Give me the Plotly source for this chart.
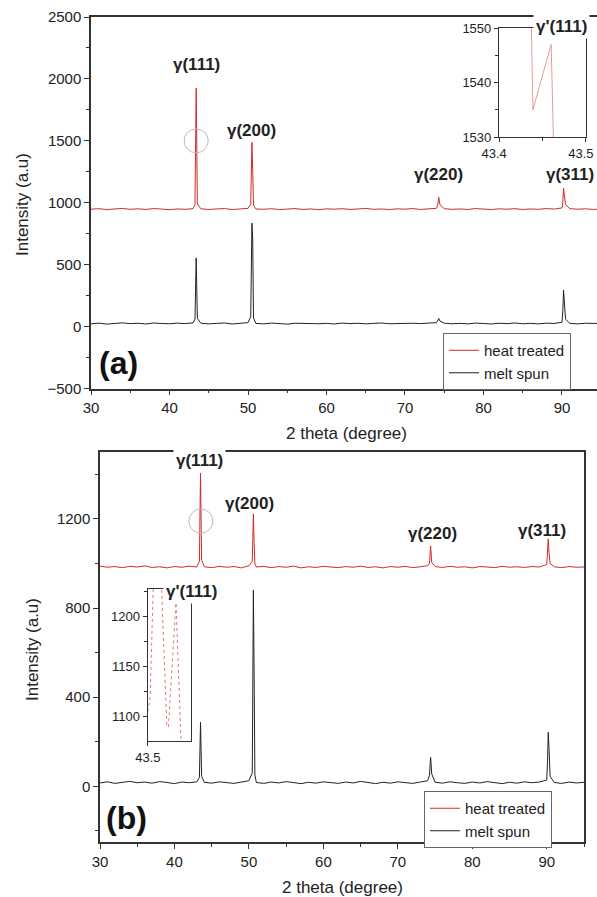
import plotly.graph_objects as go

# ---------------- data ----------------
x_a = [30, 31, 32, 33, 34, 35, 36, 37, 38, 39, 40, 41, 42, 43, 43.25, 43.4, 43.55,
       44, 45, 46, 47, 48, 49, 50, 50.35, 50.5, 50.6, 50.7,
       51, 52, 53, 54, 55, 56, 57, 58, 59, 60, 61, 62, 63, 64, 65, 66, 67, 68, 69, 70,
       71, 72, 73, 74, 74.15, 74.3, 74.45,
       75, 76, 77, 78, 79, 80, 81, 82, 83, 84, 85, 86, 87, 88, 89, 90,
       90.1, 90.2, 90.3, 90.45, 91, 92, 93, 94, 95]
heat_a = [948, 952, 945, 950, 954, 947, 951, 946, 953, 949, 944, 950, 947, 952,
          985, 1925, 990,
          951, 946, 950, 953, 945, 949, 955,
          990, 1488, 1260, 980,
          950, 947, 952, 945, 949, 953, 946, 950, 944, 951, 948, 952, 946, 949, 954, 947,
          950, 945, 951, 948, 953, 946, 950, 955,
          975, 1045, 985,
          952, 947, 950, 946, 953, 949, 945, 951, 948, 952, 946, 950, 947, 953, 949, 958,
          1000, 1118, 1040, 985,
          952, 948, 951, 946, 950]
melt_a = [22, 28, 20, 25, 30, 24, 27, 21, 29, 25, 23, 28, 24, 30,
          60, 555, 65,
          27, 22, 26, 29, 21, 25, 32,
          80, 835, 700, 70,
          26, 22, 28, 24, 20, 27, 25, 29, 23, 26, 21, 28, 24, 27, 22, 26, 29, 23, 25, 21,
          27, 24, 28, 32,
          45, 65, 45,
          27, 23, 26, 22, 28, 25, 21, 27, 24, 29, 23, 26, 22, 28, 25, 35,
          120, 295, 200, 60,
          26, 22, 27, 24, 25]

x_b = [30, 31, 32, 33, 34, 35, 36, 37, 38, 39, 40, 41, 42, 43, 43.35, 43.5, 43.65,
       44, 45, 46, 47, 48, 49, 50, 50.45, 50.6, 50.7, 50.8,
       51, 52, 53, 54, 55, 56, 57, 58, 59, 60, 61, 62, 63, 64, 65, 66, 67, 68, 69, 70,
       71, 72, 73, 74, 74.25, 74.4, 74.55,
       75, 76, 77, 78, 79, 80, 81, 82, 83, 84, 85, 86, 87, 88, 89, 90,
       90.1, 90.2, 90.3, 90.45, 91, 92, 93, 94, 95]
heat_b = [988, 983, 986, 981, 987, 984, 989, 982, 985, 980, 986, 983, 988, 984,
          1010, 1405, 1015,
          985, 981, 987, 983, 986, 980, 990,
          1010, 1222, 1090, 1000,
          984, 987, 981, 986, 983, 988, 980, 985, 982, 987, 984, 981, 986, 983, 988, 982,
          985, 980, 986, 983, 987, 981, 985, 990,
          1000, 1078, 1005,
          986, 982, 987, 983, 985, 980, 986, 984, 981, 987, 983, 985, 982, 986, 984, 995,
          1040, 1110, 1050, 1000,
          985, 981, 986, 983, 984]
melt_b = [15, 20, 13, 18, 22, 16, 19, 14, 21, 17, 12, 19, 16, 20,
          40, 287, 45,
          18, 14, 20, 16, 13, 19, 25,
          60, 880, 500, 50,
          17, 13, 19, 15, 21, 16, 12, 18, 14, 20, 17, 13, 19, 15, 22, 16, 12, 18, 14, 20,
          16, 13, 19, 25,
          50, 130, 55,
          18, 14, 20, 16, 13, 19, 15, 21, 17, 12, 18, 14, 20, 16, 19, 28,
          110, 242, 170, 45,
          17, 13, 19, 15, 18]

inset_a_x = [43.436, 43.439, 43.460, 43.464]
inset_a_y = [1560, 1535, 1547, 1520]
inset_b_x = [43.5, 43.5016, 43.504, 43.5093, 43.5133, 43.5144, 43.5197, 43.5235]
inset_b_y = [1105, 1120, 1240, 1240, 1090, 1090, 1214, 1065]

peak_labels = ["γ(111)", "γ(200)", "γ(220)", "γ(311)"]
series_names = ["heat treated", "melt spun"]

# ---------------- layout helpers ----------------
W, H = 597, 897
def px(x):
    return x / W
def py(y):
    return 1 - y / H

RED = "#d42a2a"
DARK = "#222222"
AX = "#333333"
FONT = "Arial, Liberation Sans, sans-serif"

fig = go.Figure()

# panel a
fig.add_trace(go.Scatter(x=x_a, y=heat_a, mode="lines", line=dict(color=RED, width=1),
                         name=series_names[0], xaxis="x", yaxis="y", legend="legend"))
fig.add_trace(go.Scatter(x=x_a, y=melt_a, mode="lines", line=dict(color=DARK, width=1),
                         name=series_names[1], xaxis="x", yaxis="y", legend="legend"))
# panel b
fig.add_trace(go.Scatter(x=x_b, y=heat_b, mode="lines", line=dict(color=RED, width=1),
                         name=series_names[0], xaxis="x2", yaxis="y2", legend="legend2"))
fig.add_trace(go.Scatter(x=x_b, y=melt_b, mode="lines", line=dict(color=DARK, width=1),
                         name=series_names[1], xaxis="x2", yaxis="y2", legend="legend2"))
# insets
fig.add_trace(go.Scatter(x=inset_a_x, y=inset_a_y, mode="lines",
                         line=dict(color="#e79a9a", width=1),
                         showlegend=False, xaxis="x3", yaxis="y3"))
fig.add_trace(go.Scatter(x=inset_b_x, y=inset_b_y, mode="lines",
                         line=dict(color="#e07878", width=1, dash="dot"),
                         showlegend=False, xaxis="x4", yaxis="y4"))

tickfont = dict(family=FONT, size=15, color=DARK)
small_tick = dict(family=FONT, size=13, color=DARK)

common = dict(showline=True, linecolor=AX, linewidth=1.5, ticks="outside",
              ticklen=5, tickwidth=1.2, tickcolor=AX, showgrid=False, zeroline=False,
              tickfont=tickfont, automargin=False)
inset_common = dict(showline=True, linecolor=AX, linewidth=1.2, ticks="outside", ticklen=4,
                    tickcolor=AX, showgrid=False, zeroline=False, tickfont=small_tick,
                    automargin=False, mirror=True, ticklabeloverflow="allow")

fig.update_layout(
    width=W, height=H,
    margin=dict(l=0, r=0, t=0, b=0, pad=0, autoexpand=False),
    paper_bgcolor="white", plot_bgcolor="white",
    font=dict(family=FONT, color=DARK),
    xaxis=dict(domain=[px(91), 1.0], range=[30, 94.46], anchor="y",
               dtick=10, tick0=30, mirror=True,
               minor=dict(ticks="outside", dtick=5, ticklen=3, tickcolor=AX), **common),
    yaxis=dict(domain=[py(388.5), py(17)], range=[-500, 2500], anchor="x",
               dtick=500, tick0=0, mirror=False,
               minor=dict(ticks="outside", dtick=250, ticklen=3, tickcolor=AX), **common),
    xaxis2=dict(domain=[px(100), px(584)], range=[30, 95], anchor="y2",
                dtick=10, tick0=30, mirror=True,
                minor=dict(ticks="outside", dtick=5, ticklen=3, tickcolor=AX), **common),
    yaxis2=dict(domain=[py(842), py(452)], range=[-250, 1500], anchor="x2",
                dtick=400, tick0=0, mirror=True,
                minor=dict(ticks="outside", dtick=200, ticklen=3, tickcolor=AX), **common),
    xaxis3=dict(domain=[px(499), px(586)], range=[43.3999, 43.5001], anchor="y3",
                tickvals=[43.4, 43.5], ticktext=["43.4", "43.5"], ticklabelshift=-5,
                minor=dict(ticks="outside", tickvals=[43.45], ticklen=3, tickcolor=AX),
                **inset_common),
    yaxis3=dict(domain=[py(137), py(28)], range=[1530, 1550], anchor="x3",
                dtick=10, tick0=1530,
                minor=dict(ticks="outside", dtick=5, ticklen=3, tickcolor=AX),
                **inset_common),
    xaxis4=dict(domain=[px(147.7), px(190.7)], range=[43.4999, 43.53], anchor="y4",
                tickvals=[43.5], ticktext=["43.5"], **inset_common),
    yaxis4=dict(domain=[py(741), py(589)], range=[1075.7, 1227.7], anchor="x4",
                dtick=50, tick0=1100,
                minor=dict(ticks="outside", dtick=25, ticklen=3, tickcolor=AX),
                **inset_common),
    legend=dict(x=px(443), y=py(333), xanchor="left", yanchor="top",
                bgcolor="white", bordercolor="#666", borderwidth=1,
                font=dict(family=FONT, size=15, color=DARK),
                tracegroupgap=0, itemwidth=30),
    legend2=dict(x=px(424), y=py(791), xanchor="left", yanchor="top",
                 bgcolor="white", bordercolor="#666", borderwidth=1,
                 font=dict(family=FONT, size=15, color=DARK),
                 tracegroupgap=0, itemwidth=30),
    showlegend=True,
)

ann = []
lab_font = dict(family=FONT, size=17, color=DARK)
# panel a peak labels
for text, x, y in zip(peak_labels, [43.4, 50.5, 74.3, 91.0], [2113, 1581, 1226, 1226]):
    ann.append(dict(text=f"<b>{text}</b>", x=x, y=y, xref="x", yref="y",
                    showarrow=False, font=lab_font))
# panel b peak labels
for i, (text, x, y) in enumerate(zip(peak_labels, [43.3, 50.1, 74.6, 89.3],
                                     [1460, 1267, 1133, 1146])):
    ann.append(dict(text=f"<b>{text}</b>", x=x, y=y, xref="x2", yref="y2",
                    showarrow=False, font=lab_font,
                    bgcolor="white" if i == 0 else None, borderpad=2))

def paper_ann(text, x, y, font, xanchor="center", **kw):
    return dict(text=text, x=px(x), y=py(y), xref="paper", yref="paper",
                xanchor=xanchor, yanchor="middle", showarrow=False, font=font, **kw)

# inset labels
ann.append(paper_ann("<b>γ'(111)</b>", 533, 27, lab_font, xanchor="left",
                     bgcolor="white", borderpad=2))
ann.append(paper_ann("<b>γ'(111)</b>", 163, 591, lab_font, xanchor="left",
                     bgcolor="white", borderpad=2))
# panel letters
letter_font = dict(family=FONT, size=32, color="#111")
ann.append(paper_ann("<b>(a)</b>", 118, 363, letter_font))
ann.append(paper_ann("<b>(b)</b>", 126, 818, letter_font))
# axis titles
title_font = dict(family=FONT, size=17, color=DARK)
ann.append(paper_ann("Intensity (a.u)", 22, 205, title_font, textangle=-90))
ann.append(paper_ann("2 theta (degree)", 346, 433, title_font))
ann.append(paper_ann("Intensity (a.u)", 32, 650, title_font, textangle=-90))
ann.append(paper_ann("2 theta (degree)", 342, 887, title_font))
fig.update_layout(annotations=ann)

# highlight circles
shapes = [
    dict(type="circle", xref="x", yref="y", xsizemode="pixel", ysizemode="pixel",
         xanchor=43.4, yanchor=1500, x0=-12, x1=12, y0=-12, y1=12,
         line=dict(color="#bbbbbb", width=1)),
    dict(type="circle", xref="x2", yref="y2", xsizemode="pixel", ysizemode="pixel",
         xanchor=43.55, yanchor=1190, x0=-12, x1=12, y0=-12, y1=12,
         line=dict(color="#bbbbbb", width=1)),
]
fig.update_layout(shapes=shapes)

fig.write_html("out.html",
               config={"displayModeBar": False},
               post_script="document.body.style.margin='0';"
                           "document.body.style.overflow='hidden';")
